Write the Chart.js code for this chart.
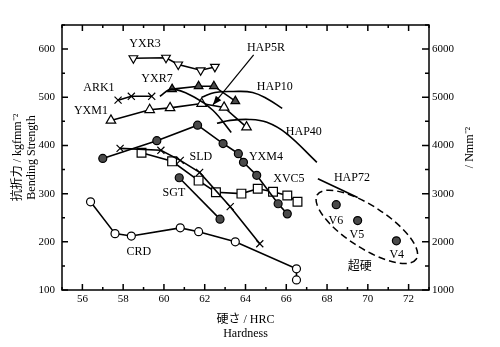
<!DOCTYPE html>
<html lang="ja">
<head>
<meta charset="UTF-8">
<title>Hardness vs bending strength</title>
<script src="https://cdn.jsdelivr.net/npm/chart.js@4.4.1/dist/chart.umd.min.js"></script>
<style>
  body { margin: 0; background: #fff; }
</style>
</head>
<body>
<canvas id="c" width="500" height="347"></canvas>
<script>
    // values: hardness (HRC) / bending strength (kgf mm^-2)
    const yxr3Hrc = [58.5, 60.1, 60.7, 61.8, 62.5];
    const yxr3Val = [581, 582, 568, 556, 563];
    const ark1Hrc = [57.75, 58.4, 59.4];
    const ark1Val = [494, 502, 502];
    const yxr7Hrc = [60.4, 61.7, 62.45, 63.5];
    const yxr7Val = [517, 523, 523, 492];
    const hap5rHrc = [59.8, 60.4, 61.5, 62.4, 63.3];
    const hap5rVal = [502, 517, 500, 473, 427];
    const yxm1Hrc = [57.4, 59.3, 60.3, 61.85, 62.95, 64.05];
    const yxm1Val = [452, 474, 478, 487, 479, 438];
    const hap10Hrc = [61.85, 62.5, 63.4, 64.35, 65.1, 65.8];
    const hap10Val = [500, 510, 512, 510, 496, 477];
    const hap40Hrc = [62.6, 63.25, 64.2, 65.05, 66.0, 67.5];
    const hap40Val = [446, 452, 454, 448, 425, 365];
    const yxm4Hrc = [57.0, 59.65, 61.65, 62.9, 63.65, 63.9, 64.55, 65.6, 66.05];
    const yxm4Val = [373, 410, 442, 404, 383, 365, 338, 279, 258];
    const sldHrc = [57.85, 59.85, 60.8, 61.75, 63.25, 64.7];
    const sldVal = [394, 390, 369, 344, 273, 196];
    const xvc5Hrc = [58.9, 60.4, 61.7, 62.55, 63.8, 64.6, 65.35, 66.05, 66.55];
    const xvc5Val = [385, 367, 327, 303, 300, 310, 304, 296, 283];
    const sgtHrc = [60.75, 62.75];
    const sgtVal = [333, 247];
    const crdHrc = [56.4, 57.6, 58.4, 60.8, 61.7, 63.5, 66.5, 66.5];
    const crdVal = [283, 217, 212, 229, 221, 200, 144, 121];
    const hap72Hrc = [67.55, 69.5];
    const hap72Val = [331, 292];
    const carbideHrc = [68.45, 69.5, 71.4];   // V6, V5, V4
    const carbideVal = [277, 244, 202];

    // text labels on the plot
    const labelText = ['YXR3', 'HAP5R', 'ARK1', 'YXR7', 'HAP10', 'YXM1', 'HAP40', 'SLD', 'YXM4',
        'SGT', 'XVC5', 'HAP72', 'CRD', 'V6', 'V5', 'V4', '超硬'];
    const labelHrc = [59.07, 65.0, 56.81, 59.66, 65.44, 56.42, 66.86, 61.81, 65.0,
        60.49, 66.13, 69.22, 58.77, 68.43, 69.46, 71.42, 69.6];
    const labelVal = [610, 602, 519, 538, 521, 471, 429, 377, 377,
        302, 331, 333, 179, 244, 215, 173, 148];

    const serif = "'Liberation Serif', 'Noto Sans CJK JP', serif";
    Chart.defaults.font.family = serif;
    Chart.defaults.color = '#000';

    function series(hrc, val, opts) {
        return Object.assign({
            data: hrc.map((h, i) => ({ x: h, y: val[i] })),
            showLine: true,
            borderColor: '#000',
            borderWidth: 1.6,
            tension: 0,
            pointRadius: 4,
            pointBorderColor: '#000',
            pointBorderWidth: 1.2,
            pointBackgroundColor: '#fff'
        }, opts);
    }
    const dark = '#4a4a4a';
    const curve = { pointRadius: 0, tension: 0.4 };

    const datasets = [
        series(yxr3Hrc, yxr3Val, { label: 'YXR3', pointStyle: 'triangle', pointRotation: 180, pointRadius: 5 }),
        series(ark1Hrc, ark1Val, { label: 'ARK1', pointStyle: 'crossRot', pointRadius: 5 }),
        series(hap5rHrc, hap5rVal, Object.assign({ label: 'HAP5R' }, curve)),
        series(yxr7Hrc, yxr7Val, { label: 'YXR7', pointStyle: 'triangle', pointRadius: 5, pointBackgroundColor: dark }),
        series(yxm1Hrc, yxm1Val, { label: 'YXM1', pointStyle: 'triangle', pointRadius: 5.5 }),
        series(hap10Hrc, hap10Val, Object.assign({ label: 'HAP10' }, curve)),
        series(hap40Hrc, hap40Val, Object.assign({ label: 'HAP40' }, curve)),
        series(yxm4Hrc, yxm4Val, { label: 'YXM4', pointBackgroundColor: dark }),
        series(sldHrc, sldVal, { label: 'SLD', pointStyle: 'crossRot', pointRadius: 5 }),
        series(xvc5Hrc, xvc5Val, { label: 'XVC5', pointStyle: 'rect', pointRadius: 6.2 }),
        series(sgtHrc, sgtVal, { label: 'SGT', pointBackgroundColor: dark }),
        series(crdHrc, crdVal, { label: 'CRD' }),
        series(hap72Hrc, hap72Val, { label: 'HAP72', pointRadius: 0 }),
        series(carbideHrc, carbideVal, { label: '超硬', showLine: false, pointBackgroundColor: dark })
    ];

    // inward ticks and the box around the plot
    const frameTicks = {
        id: 'frameTicks',
        beforeDatasetsDraw(chart) {
            const { ctx, chartArea: a, scales: { x, y, y1 } } = chart;
            ctx.save();
            ctx.strokeStyle = '#000';
            ctx.lineWidth = 1.5;
            ctx.strokeRect(a.left, a.top, a.right - a.left, a.bottom - a.top);
            ctx.beginPath();
            x.ticks.forEach(t => {
                const px = x.getPixelForValue(t.value);
                const len = t.value % 2 === 0 ? 6 : 3;
                ctx.moveTo(px, a.bottom); ctx.lineTo(px, a.bottom - len);
                ctx.moveTo(px, a.top); ctx.lineTo(px, a.top + len);
            });
            y.ticks.forEach(t => {
                const py = y.getPixelForValue(t.value);
                const len = t.value % 100 === 0 ? 6 : 3;
                ctx.moveTo(a.left, py); ctx.lineTo(a.left + len, py);
            });
            y1.ticks.forEach(t => {
                const py = y1.getPixelForValue(t.value);
                const len = t.value % 1000 === 0 ? 7 : 4;
                ctx.moveTo(a.right, py); ctx.lineTo(a.right - len, py);
            });
            ctx.stroke();
            ctx.restore();
        }
    };

    // labels, HAP5R arrow, dashed ring round the carbides, right axis title
    const notes = {
        id: 'notes',
        afterDatasetsDraw(chart) {
            const { ctx, chartArea: a, scales: { x, y } } = chart;
            ctx.save();
            ctx.fillStyle = '#000';
            ctx.strokeStyle = '#000';
            ctx.font = '12px ' + serif;
            ctx.textAlign = 'center';
            ctx.textBaseline = 'middle';
            labelText.forEach((t, i) => {
                ctx.fillText(t, x.getPixelForValue(labelHrc[i]), y.getPixelForValue(labelVal[i]));
            });

            const x0 = x.getPixelForValue(64.4), y0 = y.getPixelForValue(588);
            const x1 = x.getPixelForValue(62.4), y1 = y.getPixelForValue(484);
            const ang = Math.atan2(y1 - y0, x1 - x0);
            ctx.lineWidth = 1.2;
            ctx.beginPath();
            ctx.moveTo(x0, y0); ctx.lineTo(x1, y1);
            ctx.stroke();
            ctx.beginPath();
            ctx.moveTo(x1, y1);
            ctx.lineTo(x1 - 9 * Math.cos(ang) + 3.5 * Math.sin(ang), y1 - 9 * Math.sin(ang) - 3.5 * Math.cos(ang));
            ctx.lineTo(x1 - 9 * Math.cos(ang) - 3.5 * Math.sin(ang), y1 - 9 * Math.sin(ang) + 3.5 * Math.cos(ang));
            ctx.closePath();
            ctx.fill();

            ctx.lineWidth = 1.5;
            ctx.setLineDash([7, 4]);
            ctx.beginPath();
            ctx.ellipse(x.getPixelForValue(69.95), y.getPixelForValue(231), 59, 21, 33 * Math.PI / 180, 0, 2 * Math.PI);
            ctx.stroke();
            ctx.setLineDash([]);

            ctx.translate(470, (a.top + a.bottom) / 2 - 10);
            ctx.rotate(-Math.PI / 2);
            ctx.fillText('/ Nmm⁻²', 0, 0);
            ctx.restore();
        }
    };

    new Chart(document.getElementById('c'), {
        type: 'scatter',
        data: { datasets: datasets },
        options: {
            responsive: false,
            animation: false,
            layout: { padding: { top: 25 } },
            plugins: { legend: { display: false }, tooltip: { enabled: false } },
            scales: {
                x: {
                    type: 'linear', min: 55, max: 73,
                    ticks: { stepSize: 1, padding: 3, font: { size: 11 },
                        callback: v => v % 2 === 0 ? v : '' },
                    grid: { display: false, drawTicks: false },
                    border: { display: false },
                    title: { display: true, text: ['硬さ / HRC', 'Hardness'],
                        font: { size: 12, lineHeight: 1.1 }, padding: { top: 0, bottom: 7 } },
                    afterFit: s => { s.height = 57; }
                },
                y: {
                    min: 100, max: 650,
                    ticks: { stepSize: 50, padding: 7, font: { size: 11 },
                        callback: v => v % 100 === 0 ? v : '' },
                    grid: { display: false, drawTicks: false },
                    border: { display: false },
                    title: { display: true, text: ['抗折力 / kgfmm⁻²', 'Bending Strength'],
                        font: { size: 12, lineHeight: 1.15 }, padding: { top: 11, bottom: 0 } },
                    afterFit: s => { s.width = 62; }
                },
                y1: {
                    position: 'right',
                    min: 1000, max: 6500,
                    ticks: { stepSize: 500, padding: 3, font: { size: 11 },
                        callback: v => v % 1000 === 0 ? v : '' },
                    grid: { display: false, drawTicks: false },
                    border: { display: false },
                    afterFit: s => { s.width = 71; }
                }
            }
        },
        plugins: [frameTicks, notes]
    });
</script>
</body>
</html>
